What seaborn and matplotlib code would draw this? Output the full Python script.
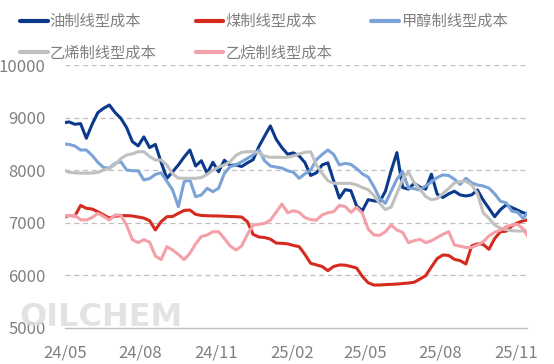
import numpy as np
import pandas as pd
import matplotlib
matplotlib.use("Agg")
import matplotlib.pyplot as plt
import matplotlib.dates as mdates
from matplotlib.lines import Line2D
import seaborn as sns

# weekly observation dates (Mondays)
dates = pd.date_range("2024-04-29", periods=82, freq="7D")

oil = [8900, 8918, 8873, 8886, 8607, 8873, 9095, 9177, 9240, 9095, 8987,
       8810, 8544, 8462, 8633, 8430, 8490, 8150, 7846, 7970, 8100,
       8250, 8384, 8080, 8180, 7941, 8150, 7970, 8190, 8090, 8100,
       8070, 8140, 8200, 8450, 8650, 8842, 8589, 8430, 8304, 8330,
       8272, 8145, 7900, 7950, 8100, 8140, 7800, 7470, 7630, 7610,
       7320, 7230, 7440, 7418, 7400, 7600, 7990, 8335, 7671, 7640,
       7750, 7680, 7640, 7924, 7544, 7481, 7550, 7600, 7530, 7510,
       7530, 7624, 7433, 7276, 7116, 7250, 7340, 7290, 7240, 7190,
       7150]
coal = [7100, 7140, 7130, 7330, 7275, 7262, 7210, 7150, 7090, 7125, 7136,
        7136, 7130, 7110, 7090, 7040, 6863, 7022, 7116, 7120, 7180,
        7235, 7243, 7160, 7140, 7135, 7130, 7130, 7125, 7120, 7116,
        7110, 7020, 6780, 6730, 6720, 6690, 6615, 6610, 6600, 6570,
        6546, 6400, 6230, 6200, 6170, 6090, 6170, 6198, 6195, 6170,
        6140, 5980, 5860, 5817, 5817, 5825, 5830, 5835, 5845, 5855,
        5870, 5930, 5995, 6160, 6320, 6388, 6380, 6306, 6280, 6217,
        6560, 6600, 6590, 6496, 6700, 6831, 6840, 6940, 7000, 7040,
        7060]
methanol = [8500, 8490, 8460, 8384, 8384, 8280, 8150, 8050, 8040, 8131, 8162,
            8004, 7990, 7990, 7814, 7840, 7920, 7950, 7790, 7624, 7306,
            7782, 7814, 7496, 7528, 7656, 7592, 7656, 7941, 8067, 8100,
            8160, 8226, 8289, 8384, 8180, 8080, 8060, 8040, 7990, 7960,
            7846, 7930, 8000, 8200, 8300, 8384, 8300, 8100, 8131, 8110,
            8030, 7930, 7870, 7687, 7465, 7370, 7600, 7830, 7972, 7660,
            7650, 7624, 7700, 7780, 7860, 7910, 7900, 7830, 7730, 7846,
            7760, 7719, 7700, 7660, 7550, 7410, 7380, 7220, 7200, 7080,
            7250]
ethylene = [8010, 7960, 7950, 7945, 7945, 7945, 7960, 8004, 8030, 8110, 8220,
            8290, 8310, 8352, 8352, 8260, 8194, 8194, 8100, 7930, 7850,
            7846, 7846, 7846, 7860, 7920, 8000, 8060, 8100, 8162, 8280,
            8340, 8352, 8352, 8330, 8270, 8245, 8245, 8245, 8245, 8270,
            8310, 8340, 8352, 8100, 7940, 7800, 7750, 7750, 7750, 7750,
            7720, 7670, 7630, 7520, 7370, 7250, 7300, 7560, 7830, 7970,
            7760, 7640, 7500, 7440, 7460, 7560, 7650, 7760, 7782, 7790,
            7719, 7560, 7190, 7085, 6960, 6895, 6870, 6850, 6844, 6844,
            6844]
ethane = [7120, 7140, 7140, 7060, 7053, 7100, 7180, 7120, 7053, 7148, 7148,
          6950, 6680, 6622, 6680, 6630, 6370, 6300, 6546, 6483, 6400,
          6300, 6420, 6600, 6740, 6768, 6831, 6831, 6700, 6560, 6483,
          6559, 6780, 6958, 6970, 6990, 7050, 7200, 7357, 7192, 7230,
          7200, 7100, 7060, 7050, 7150, 7190, 7212, 7330, 7310, 7200,
          7294, 7180, 6880, 6770, 6760, 6831, 6958, 6863, 6820, 6622,
          6660, 6686, 6622, 6660, 6720, 6780, 6831, 6578, 6555, 6530,
          6530, 6578, 6640, 6750, 6820, 6863, 6926, 6960, 6970, 6880,
          6700]

names = ["油制线型成本", "煤制线型成本", "甲醇制线型成本", "乙烯制线型成本", "乙烷制线型成本"]
values = [oil, coal, methanol, ethylene, ethane]
colors = ["#0B3A8C", "#D52B1E", "#7BA3D8", "#C0C0C0", "#F4A0A8"]

yticks = [5000, 6000, 7000, 8000, 9000, 10000]
xtick_dates = pd.to_datetime(["2024-05-01", "2024-08-01", "2024-11-01",
                              "2025-02-01", "2025-05-01", "2025-08-01", "2025-11-01"])
xtick_labels = ["24/05", "24/08", "24/11", "25/02", "25/05", "25/08", "25/11"]

df = pd.concat([pd.DataFrame({"date": dates, "value": v, "series": n})
                for n, v in zip(names, values)], ignore_index=True)

sns.set_theme(style="white")
plt.rcParams["font.family"] = ["Noto Sans CJK SC", "DejaVu Sans"]

fig = plt.figure(figsize=(5.54, 3.64), dpi=100)
ax = fig.add_axes([65 / 554, 1 - 328 / 364, (526.7 - 65) / 554, (328 - 65) / 364])
ax.patch.set_alpha(0)

# watermark (sits behind the axis labels, as in the reference)
fig.text(19 / 554, 1 - 333 / 364, "OILCHEM", fontsize=23, fontweight="bold",
         color="#dcdcdc", alpha=0.8, ha="left", va="bottom", zorder=0,
         family="DejaVu Sans")

sns.lineplot(data=df, x="date", y="value", hue="series", hue_order=names,
             palette=dict(zip(names, colors)), linewidth=2.2, legend=False, ax=ax)
for ln in ax.lines:
    ln.set_solid_joinstyle("round")

ax.set_xlim(pd.Timestamp("2024-05-01"), pd.Timestamp("2025-11-14"))
ax.set_ylim(5000, 10000)
ax.set_yticks(yticks)
ax.set_yticklabels([str(t) for t in yticks])
ax.set_xticks(xtick_dates)
ax.set_xticklabels(xtick_labels)
ax.set_xlabel("")
ax.set_ylabel("")

for t in yticks[1:]:
    ax.axhline(t, color="#bfbfbf", lw=0.9, ls=(0, (4, 3)), zorder=0.5)

for s in ["left", "right", "top"]:
    ax.spines[s].set_visible(False)
ax.spines["bottom"].set_color("#bfbfbf")
ax.spines["bottom"].set_linewidth(1.0)

ax.tick_params(axis="y", length=0, pad=14, labelsize=12, labelcolor="#808080")
ax.tick_params(axis="x", direction="in", length=5, width=1, color="#bfbfbf",
               pad=12, labelsize=12, labelcolor="#808080")

handles = [Line2D([0], [0], color=c, lw=3) for c in colors]
order = [0, 3, 1, 4, 2]
fig.legend([handles[i] for i in order], [names[i] for i in order],
           loc="upper left", bbox_to_anchor=(20 / 554, 1 - 13 / 364), ncol=3,
           frameon=False, fontsize=11, labelcolor="#808080", handlelength=1.8,
           handletextpad=0.15, columnspacing=2.55, borderaxespad=0, borderpad=0,
           labelspacing=0.95)

fig.savefig("out.png", dpi=100)
